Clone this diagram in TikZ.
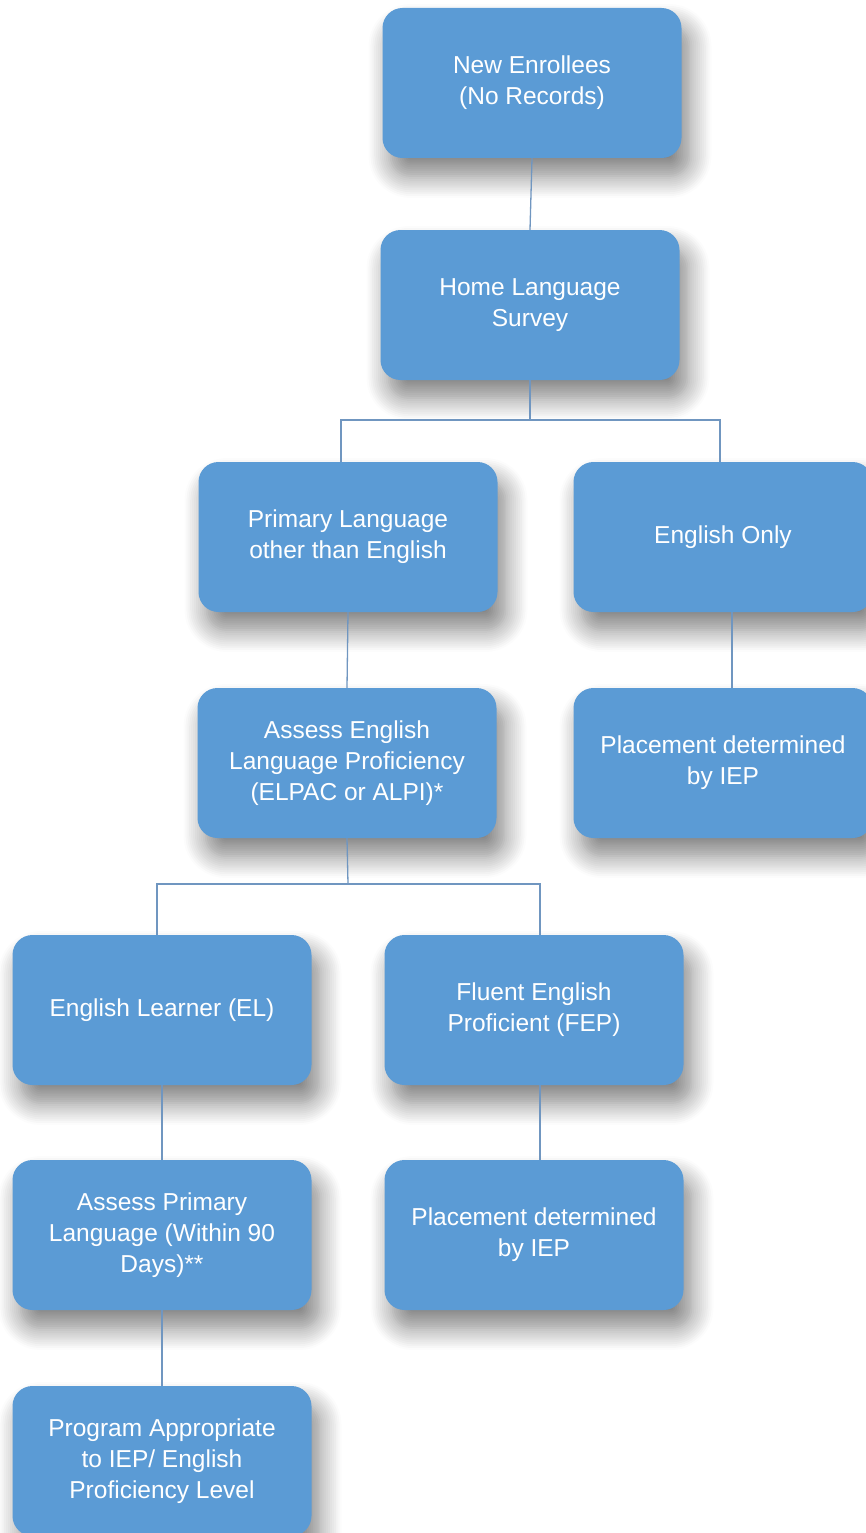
\documentclass[tikz,border=0pt]{standalone}
\usepackage{fontspec}
\setmainfont{Liberation Sans}
\usetikzlibrary{shadows.blur}
\definecolor{boxblue}{RGB}{91,155,213}
\definecolor{linecol}{RGB}{112,150,192}
\begin{document}
\begin{tikzpicture}[x=1pt,y=-1pt,
  box/.style={fill=boxblue, draw=none, rounded corners=20pt,
    minimum width=299pt, minimum height=150pt, align=center,
    text=white, font=\fontsize{24.5}{31}\selectfont,
    blur shadow={shadow xshift=8pt, shadow yshift=-18pt, shadow blur radius=22pt, shadow blur steps=12, shadow opacity=50}},
  conn/.style={draw=linecol, line width=1.3pt}]
\useasboundingbox (0,0) rectangle (865,1533);
\node[box] (ne) at (532,83) {New Enrollees\\(No Records)};
\node[box] (hls) at (530,305) {Home Language\\Survey};
\node[box] (pl) at (348,537) {Primary Language\\other than English};
\node[box] (eo) at (723,537) {English Only};
\node[box] (ael) at (347,763) {Assess English\\Language Proficiency\\(ELPAC or ALPI)*};
\node[box] (pd1) at (723,763) {Placement determined\\by IEP};
\node[box] (el) at (162,1010) {English Learner (EL)};
\node[box] (fep) at (534,1010) {Fluent English\\Proficient (FEP)};
\node[box] (apl) at (162,1235) {Assess Primary\\Language (Within 90\\Days)**};
\node[box] (pd2) at (534,1235) {Placement determined\\by IEP};
\node[box] (prog) at (162,1461) {Program Appropriate\\to IEP/ English\\Proficiency Level};
\coordinate (b1) at (530,420);
\coordinate (b2) at (348,884);
\draw[conn] (ne.south) -- (hls.north);
\draw[conn] (hls.south) -- (b1);
\draw[conn] (b1) -| ([xshift=-7pt]pl.north);
\draw[conn] (b1) -| ([xshift=-3pt]eo.north);
\draw[conn] (pl.south) -- (ael.north);
\draw[conn] ([xshift=9pt]eo.south) -- ([xshift=9pt]pd1.north);
\draw[conn] (ael.south) -- (b2);
\draw[conn] (b2) -| ([xshift=-5pt]el.north);
\draw[conn] (b2) -| ([xshift=6pt]fep.north);
\draw[conn] (el.south) -- (apl.north);
\draw[conn] ([xshift=6pt]fep.south) -- ([xshift=6pt]pd2.north);
\draw[conn] (apl.south) -- (prog.north);
\end{tikzpicture}
\end{document}
